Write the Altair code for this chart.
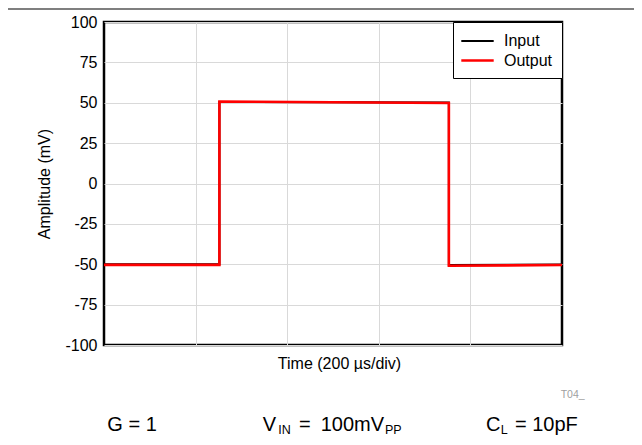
import altair as alt
import pandas as pd

# ---- data ----
times = [0, 252, 252, 753, 753, 1000]          # µs
input_mv = [-50.0, -50.0, 50.5, 50.1, -50.5, -50.2]
output_mv = [-50.4, -50.4, 50.8, 49.8, -50.9, -50.5]
series = ["Input", "Output"]
colors = ["black", "red"]
widths = [2.0, 2.6]
y_ticks = [-100, -75, -50, -25, 0, 25, 50, 75, 100]
x_grid = [200, 400, 600, 800]

footer_main = ["G = 1", "V", "=", "100mV", "C", "= 10pF"]
footer_sub = ["IN", "PP", "L"]
figure_id = "T04_"

FONT = "Liberation Sans"

rows = []
for name, vals in ((series[0], input_mv), (series[1], output_mv)):
    for i, (t, v) in enumerate(zip(times, vals)):
        rows.append({"t": t, "mV": v, "Signal": name, "idx": i})
df = pd.DataFrame(rows)

lines = alt.Chart(df).mark_line().encode(
    x=alt.X("t:Q",
            scale=alt.Scale(domain=[0, 1000], nice=False, zero=False),
            axis=alt.Axis(values=x_grid, labels=False, ticks=False, domain=False,
                          title="Time (200 µs/div)", titleFontSize=16,
                          titleFontWeight="normal", titlePadding=10, titleX=235)),
    y=alt.Y("mV:Q",
            scale=alt.Scale(domain=[-100, 100], nice=False),
            axis=alt.Axis(values=y_ticks, ticks=False, domain=False,
                          labelFontSize=16, labelPadding=7,
                          labelExpr="'' + datum.value",
                          title="Amplitude (mV)", titleFontSize=16,
                          titleFontWeight="normal", titlePadding=12)),
    color=alt.Color("Signal:N",
                    scale=alt.Scale(domain=series, range=colors),
                    legend=alt.Legend(title=None, orient="top-right", offset=0,
                                      fillColor="white", strokeColor="black",
                                      padding=9, symbolType="M-1.8,0H1.8",
                                      symbolSize=324, symbolStrokeWidth=2,
                                      symbolOffset=5,
                                      labelFontSize=16, labelOffset=16,
                                      rowPadding=1)),
    strokeWidth=alt.StrokeWidth("Signal:N",
                                scale=alt.Scale(domain=series, range=widths),
                                legend=None),
    order=alt.Order("idx:Q"),
)


def label(txt, x, y, size, color="black"):
    return alt.Chart(pd.DataFrame({"text": [txt]})).mark_text(
        align="left", baseline="alphabetic", fontSize=size, color=color, font=FONT
    ).encode(x=alt.value(x), y=alt.value(y), text="text:N")


top_rule = alt.Chart(pd.DataFrame({"a": [0]})).mark_rule(
    color="#7f7f7f", strokeWidth=2
).encode(x=alt.value(-96), x2=alt.value(530), y=alt.value(-13))

texts = [
    label(footer_main[0], 3.3, 409, 20),
    label(footer_main[1], 158.7, 409, 20),
    label(footer_sub[0], 174.3, 412.3, 12.5),
    label(footer_main[2], 195.0, 409, 20),
    label(footer_main[3], 216.7, 409, 20),
    label(footer_sub[1], 281, 412.3, 12.5),
    label(footer_main[4], 382, 409, 20),
    label(footer_sub[2], 396.7, 412.3, 12.5),
    label(footer_main[5], 411, 409, 20),
    label(figure_id, 456.7, 376, 10.5, "#a0a0a0"),
]

chart = alt.layer(lines, top_rule, *texts).properties(
    width=458, height=323,
    padding={"left": 96, "top": 14, "right": 72, "bottom": 92},
    autosize="none",
).configure(font=FONT).configure_view(
    stroke="black", strokeWidth=2.5
).configure_axis(
    gridColor="#d9d9d9", gridWidth=1, labelColor="black", titleColor="black",
    labelFont=FONT, titleFont=FONT
).configure_legend(labelFont=FONT, labelColor="black")

chart.save("out.html", embed_options={"renderer": "svg", "actions": False})
